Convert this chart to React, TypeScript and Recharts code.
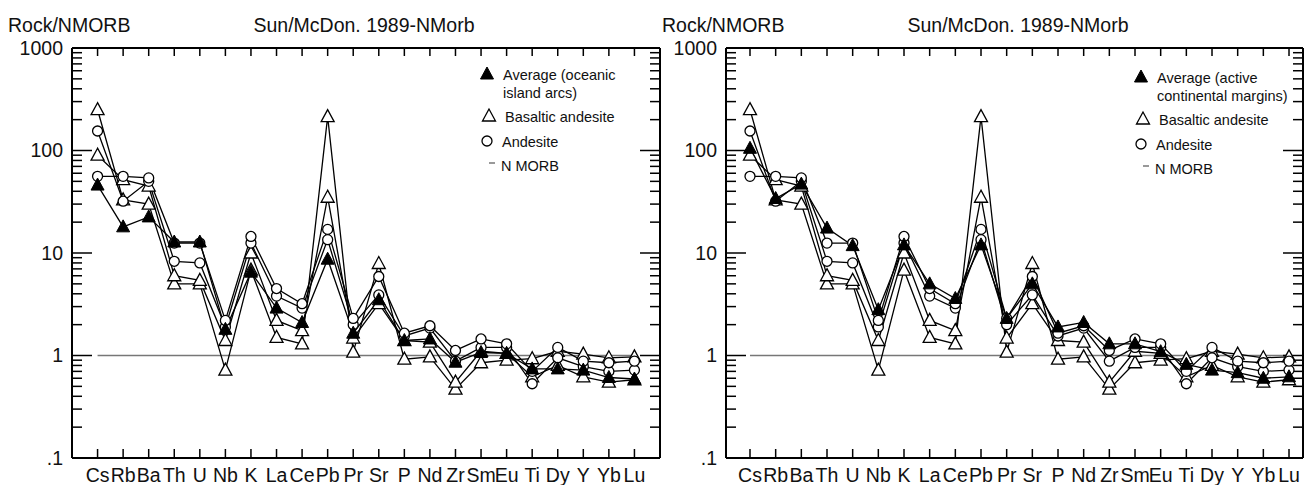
import { LineChart, Line, XAxis, YAxis, Legend } from 'recharts';

const FONT = '"Liberation Sans", Arial, Helvetica, sans-serif';
const INK = '#111';
const MORB_GREY = '#777';

// elements along the x axis (Sun & McDonough 1989 order)
const elements = ['Cs', 'Rb', 'Ba', 'Th', 'U', 'Nb', 'K', 'La', 'Ce', 'Pb', 'Pr', 'Sr', 'P', 'Nd', 'Zr', 'Sm', 'Eu', 'Ti', 'Dy', 'Y', 'Yb', 'Lu'];

// rock / N-MORB ratios
const avgIslandArcs = [46, 18, 22.5, 12.8, 12.8, 1.8, 6.5, 2.9, 2.1, 8.7, 1.65, 3.5, 1.4, 1.45, 0.86, 1.07, 1.05, 0.74, 0.74, 0.72, 0.61, 0.59];
const avgContMargins = [105, 34, 47, 17.5, 11.8, 2.8, 12, 5.0, 3.6, 12, 2.3, 5.0, 1.9, 2.1, 1.3, 1.3, 1.09, 0.82, 0.72, 0.68, 0.6, 0.62];
const basAndesiteA = [250, 33, 30, 5, 5.0, 0.72, 6.8, 1.5, 1.3, 214, 1.08, 7.9, 0.92, 0.97, 0.47, 0.85, 0.9, 0.93, 1.1, 1.03, 0.95, 0.97];
const basAndesiteB = [90, 52, 45, 6, 5.4, 1.4, 10, 2.2, 1.75, 35, 1.48, 3.2, 1.4, 1.35, 0.55, 1.1, 1.05, 0.62, 0.8, 0.62, 0.55, 0.58];
const andesiteA = [155, 32, 50, 8.3, 8, 1.9, 12.5, 3.8, 2.9, 13.5, 2.0, 3.9, 1.55, 1.85, 0.88, 1.2, 1.2, 0.53, 0.95, 0.78, 0.7, 0.72];
const andesiteB = [56, 56, 54, 12.5, 12.5, 2.2, 14.5, 4.5, 3.2, 17, 2.3, 5.9, 1.65, 1.95, 1.12, 1.45, 1.3, 0.7, 1.2, 0.88, 0.85, 0.88];
const nMorb = [1, 1, 1, 1, 1, 1, 1, 1, 1, 1, 1, 1, 1, 1, 1, 1, 1, 1, 1, 1, 1, 1];

const yMajorTicks = [0.1, 1, 10, 100, 1000];
const yTickLabels = ['.1', '1', '10', '100', '1000'];
const yMinorSteps = [2, 3, 4, 5, 6, 7, 8, 9];

const yMinorTicks = yMajorTicks.slice(0, -1).flatMap((d) => yMinorSteps.map((m) => d * m));
const yAllTicks = [...yMajorTicks, ...yMinorTicks];
const xTicks = elements.map((_, i) => i + 1);

const TOP = 48;
const BOTTOM = 458;
const H = 485;

function FilledTriangle({ cx, cy }: { cx: number; cy: number }) {
  return <polygon points={`${cx},${cy - 7} ${cx - 6.5},${cy + 5} ${cx + 6.5},${cy + 5}`} fill="#000" stroke="#000" strokeWidth={1} />;
}
function OpenTriangle({ cx, cy }: { cx: number; cy: number }) {
  return <polygon points={`${cx},${cy - 7} ${cx - 6.5},${cy + 5} ${cx + 6.5},${cy + 5}`} fill="#fff" stroke="#000" strokeWidth={1.3} />;
}
function Ring({ cx, cy }: { cx: number; cy: number }) {
  return <circle cx={cx} cy={cy} r={5} fill="#fff" stroke="#000" strokeWidth={1.3} />;
}

const filledDot = (p: any) =>
  p.cx == null ? <g key={`f${p.index}`} /> : <FilledTriangle key={`f${p.index}`} cx={p.cx} cy={p.cy} />;
const openTriDot = (p: any) =>
  p.cx == null ? <g key={`t${p.index}`} /> : <OpenTriangle key={`t${p.index}`} cx={p.cx} cy={p.cy} />;
const ringDot = (p: any) =>
  p.cx == null ? <g key={`c${p.index}`} /> : <Ring key={`c${p.index}`} cx={p.cx} cy={p.cy} />;

// inward tick marks, placed through the chart scales as marker-only rows along the frame
const yTickMark = (dir: number) => (p: any) => {
  if (p.cx == null) return <g key={`ym${p.index}`} />;
  const major = yMajorTicks.some((m) => Math.abs(m - p.payload.tk) < 1e-9);
  const len = major ? 20 : 10;
  return <path key={`ym${p.index}`} d={`M${p.cx},${p.cy}H${p.cx + dir * len}`} stroke="#000" strokeWidth={1.5} fill="none" />;
};
const xTickMark = (dir: number, len: number) => (p: any) => {
  if (p.cx == null) return <g key={`xm${p.index}`} />;
  return <path key={`xm${p.index}`} d={`M${p.cx},${p.cy}V${p.cy + dir * len}`} stroke="#000" strokeWidth={1.5} fill="none" />;
};

const yLabel = (v: number) => {
  const idx = yMajorTicks.findIndex((m) => Math.abs(m - v) < 1e-9);
  return idx >= 0 ? yTickLabels[idx] : '';
};
const xLabel = (v: number) => elements[v - 1] ?? '';

function LegendBox({ lines }: { lines: string[] }) {
  const ix = 17;
  const tx = 33;
  const y0 = 19;
  return (
    <svg width={210} height={130} style={{ display: 'block', overflow: 'visible' }} fontFamily={FONT} fontSize={14.5} fill={INK}>
      <FilledTriangle cx={ix} cy={y0} />
      <text x={tx} y={y0 + 5.5}>{lines[0]}</text>
      <text x={tx} y={y0 + 23.5}>{lines[1]}</text>
      <OpenTriangle cx={ix + 2} cy={y0 + 42} />
      <text x={tx + 2} y={y0 + 47.5}>Basaltic andesite</text>
      <Ring cx={ix} cy={y0 + 67} />
      <text x={tx - 1} y={y0 + 72.5}>Andesite</text>
      <line x1={ix + 2} x2={ix + 8} y1={y0 + 89} y2={y0 + 89} stroke={MORB_GREY} strokeWidth={1.5} />
      <text x={tx - 2} y={y0 + 96.5}>N MORB</text>
    </svg>
  );
}

type PanelProps = {
  average: number[];
  averageLines: string[];
  left: number;
  width: number;
  plotLeft: number;
  plotRight: number;
  xDomain: [number, number];
  legendLeft: number;
  legendTop: number;
  titleX: number;
};

function Panel({ average, averageLines, left, width, plotLeft, plotRight, xDomain, legendLeft, legendTop, titleX }: PanelProps) {
  const data = elements.map((el, i) => ({
    x: i + 1,
    el,
    nmorb: nMorb[i],
    baA: basAndesiteA[i],
    baB: basAndesiteB[i],
    anA: andesiteA[i],
    anB: andesiteB[i],
    avg: average[i],
  }));
  const leftTicks = yAllTicks.map((tk) => ({ x: xDomain[0], tk }));
  const rightTicks = yAllTicks.map((tk) => ({ x: xDomain[1], tk }));
  const bottomTicks = xTicks.map((x) => ({ x, tk: yMajorTicks[0] }));
  const topTicks = xTicks.map((x) => ({ x, tk: yMajorTicks[yMajorTicks.length - 1] }));

  const frame = { stroke: '#000', strokeWidth: 2 };
  const labelStyle = { fontSize: 19.5, fontFamily: FONT, fill: INK };
  const yCommon = {
    type: 'number' as const,
    scale: 'log' as const,
    domain: [0.1, 1000],
    ticks: yMajorTicks,
    interval: 0,
    width: 1,
    allowDataOverflow: true,
    tickLine: false,
    axisLine: frame,
  };
  const xCommon = {
    dataKey: 'x',
    type: 'number' as const,
    domain: xDomain,
    ticks: xTicks,
    interval: 0,
    height: 1,
    allowDataOverflow: true,
    tickLine: false,
    axisLine: frame,
  };
  const markRow = { stroke: 'none', activeDot: false, isAnimationActive: false, legendType: 'none' as const };

  return (
    <div style={{ position: 'absolute', left, top: 0 }}>
      <LineChart
        width={width}
        height={H}
        data={data}
        margin={{ top: TOP - 1, bottom: H - BOTTOM - 1, left: plotLeft - 1, right: width - plotRight - 1 }}
      >
        <XAxis xAxisId="b" {...xCommon} tickSize={-9} tickMargin={19} tickFormatter={xLabel} tick={labelStyle} />
        <XAxis xAxisId="t" orientation="top" {...xCommon} tick={false} />
        <YAxis yAxisId="l" {...yCommon} tickSize={-20} tickMargin={29} tickFormatter={yLabel} tick={labelStyle} />
        <YAxis yAxisId="r" orientation="right" {...yCommon} tick={false} />

        <Line xAxisId="b" yAxisId="l" data={leftTicks} dataKey="tk" {...markRow} dot={yTickMark(1)} />
        <Line xAxisId="b" yAxisId="l" data={rightTicks} dataKey="tk" {...markRow} dot={yTickMark(-1)} />
        <Line xAxisId="b" yAxisId="l" data={bottomTicks} dataKey="tk" {...markRow} dot={xTickMark(-1, 9)} />
        <Line xAxisId="b" yAxisId="l" data={topTicks} dataKey="tk" {...markRow} dot={xTickMark(1, 8)} />

        <Line xAxisId="b" yAxisId="l" dataKey="nmorb" stroke={MORB_GREY} strokeWidth={1.3} dot={false} activeDot={false} isAnimationActive={false} />
        <Line xAxisId="b" yAxisId="l" dataKey="baA" stroke="#000" strokeWidth={1.3} dot={openTriDot} activeDot={false} isAnimationActive={false} />
        <Line xAxisId="b" yAxisId="l" dataKey="baB" stroke="#000" strokeWidth={1.3} dot={openTriDot} activeDot={false} isAnimationActive={false} />
        <Line xAxisId="b" yAxisId="l" dataKey="anA" stroke="#000" strokeWidth={1.3} dot={ringDot} activeDot={false} isAnimationActive={false} />
        <Line xAxisId="b" yAxisId="l" dataKey="anB" stroke="#000" strokeWidth={1.3} dot={ringDot} activeDot={false} isAnimationActive={false} />
        <Line xAxisId="b" yAxisId="l" dataKey="avg" stroke="#000" strokeWidth={1.3} dot={filledDot} activeDot={false} isAnimationActive={false} />

        <Legend
          layout="vertical"
          align="center"
          verticalAlign="middle"
          wrapperStyle={{ left: legendLeft, top: legendTop, width: 210, height: 130 }}
          content={() => <LegendBox lines={averageLines} />}
        />

        <text x={plotLeft - 64} y={32} fontSize={19.5} fontFamily={FONT} fill={INK}>Rock/NMORB</text>
        <text x={titleX} y={32} fontSize={19.5} fontFamily={FONT} fill={INK} textAnchor="middle">Sun/McDon. 1989-NMorb</text>
      </LineChart>
    </div>
  );
}

export default function App() {
  return (
    <div style={{ position: 'absolute', left: 0, top: 0, width: 1306, height: H, background: '#fff' }}>
      <Panel
        average={avgIslandArcs}
        averageLines={['Average (oceanic', 'island arcs)']}
        left={0}
        width={665}
        plotLeft={72}
        plotRight={660}
        xDomain={[0, 23]}
        legendLeft={470}
        legendTop={55}
        titleX={364}
      />
      <Panel
        average={avgContMargins}
        averageLines={['Average (active', 'continental margins)']}
        left={650}
        width={656}
        plotLeft={76}
        plotRight={653}
        xDomain={[0.065, 22.545]}
        legendLeft={474}
        legendTop={58}
        titleX={368}
      />
    </div>
  );
}
